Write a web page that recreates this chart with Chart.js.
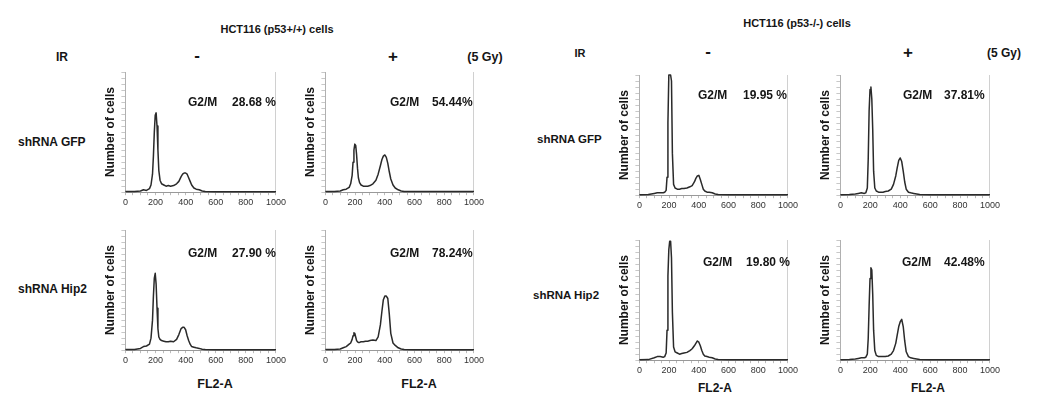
<!doctype html>
<html lang="en">
<head>
<meta charset="utf-8">
<title>HCT116 cell cycle – FL2-A histograms</title>
<script src="https://cdn.jsdelivr.net/npm/chart.js@4.4.4/dist/chart.umd.min.js"></script>
<style>
  body { margin: 0; width: 1047px; height: 411px; background: #fff; position: relative; overflow: hidden;
         font-family: "Liberation Sans", Arial, sans-serif; font-weight: bold; color: #151515; }
  .c { position: absolute; white-space: nowrap; transform: translate(-50%, -50%); }
  .s { position: absolute; white-space: nowrap; transform: translateY(-50%); }
  .box { position: absolute; }
</style>
</head>
<body>
<div class="c" style="left:277px;top:29px;font-size:11px">HCT116 (p53+/+) cells</div>
<div class="c" style="left:62px;top:57px;font-size:12px">IR</div>
<div class="c" style="left:197px;top:56px;font-size:17px">-</div>
<div class="c" style="left:393px;top:57px;font-size:17px">+</div>
<div class="c" style="left:485px;top:57px;font-size:12.5px">(5 Gy)</div>
<div class="s" style="left:18px;top:142px;font-size:12px">shRNA GFP</div>
<div class="s" style="left:18px;top:289px;font-size:12px">shRNA Hip2</div>
<div class="c" style="left:215px;top:384px;font-size:12.5px">FL2-A</div>
<div class="c" style="left:419px;top:384px;font-size:12.5px">FL2-A</div>

<div class="c" style="left:797px;top:23px;font-size:11px">HCT116 (p53-/-) cells</div>
<div class="c" style="left:580px;top:53px;font-size:11px">IR</div>
<div class="c" style="left:708px;top:52px;font-size:17px">-</div>
<div class="c" style="left:908px;top:53px;font-size:17px">+</div>
<div class="c" style="left:1004px;top:53px;font-size:12px">(5 Gy)</div>
<div class="s" style="left:537px;top:139px;font-size:11.5px">shRNA GFP</div>
<div class="s" style="left:533px;top:295px;font-size:11.5px">shRNA Hip2</div>
<div class="c" style="left:715px;top:388px;font-size:12px">FL2-A</div>
<div class="c" style="left:928px;top:388px;font-size:12px">FL2-A</div>

<script>
// FL2-A channel positions shared by all histograms
const channels = [0, 60, 100, 120, 140, 160, 170, 180, 186, 192, 198, 204, 210, 216, 222, 230, 240, 255, 270, 285,
                  300, 320, 340, 355, 370, 380, 390, 400, 410, 420, 430, 440, 455, 470, 490, 510, 530, 600, 800, 1000];

// Number of cells, as % of the panel's y range
const wtGfpMock = [0.5, 0.5, 1, 2, 1.5, 3, 6, 15, 30, 50, 64, 66, 55, 35, 18, 10, 7, 6, 5, 5.5,
                   5, 5.5, 7, 9, 13, 15, 16, 16, 15, 12, 9, 6, 3.5, 2.5, 2, 1, 0.5, 0.4, 0.3, 0.3];
const wtGfpIR = [0.5, 0.5, 1, 2, 2.5, 4, 7, 14, 25, 35, 40, 39, 31, 20, 12, 8, 6, 5, 5, 5,
                 5.5, 7, 10, 15, 22, 27, 30, 31, 29, 24, 17, 11, 6, 3.5, 2, 1, 0.5, 0.5, 0.5, 0.5];
const wtHipMock = [0.5, 0.5, 1.5, 3, 3.5, 5, 10, 25, 45, 60, 64, 55, 35, 18, 11, 9, 8, 7.5, 7, 7,
                   7.5, 7, 9, 13, 18, 19, 19, 17, 12, 8, 5, 3, 2.5, 2, 1.5, 0.8, 0.5, 0.3, 0.3, 0.3];
const wtHipIR = [0.5, 0.5, 1, 2, 3, 5, 6, 9, 12, 14.5, 14, 11, 8, 7, 6.5, 6.5, 7, 7, 7.5, 7.5,
                 8, 8.5, 8, 11, 21, 32, 42, 45, 45, 43, 30, 14, 6, 4, 2, 1, 0.5, 0.3, 0.3, 0.3];
const koGfpMock = [0.3, 0.5, 1.5, 2, 2, 2, 2.5, 4, 15, 60, 100, 100, 100, 95, 35, 9, 6, 5, 5, 5.5,
                   5.5, 6, 7, 8, 11, 14, 16, 16.5, 13, 9, 5, 3.5, 2.5, 2.5, 2, 1, 0.5, 0.3, 0.3, 0.3];
const koGfpIR = [0.3, 0.5, 1, 1.5, 2, 1.5, 2, 6, 30, 70, 88, 90, 80, 55, 20, 6, 3.5, 2.5, 2.5, 2.5,
                 3, 3.5, 5, 9, 16, 23, 29, 31, 28, 20, 11, 5, 2.5, 2, 1.5, 1, 0.5, 0.3, 0.3, 0.3];
const koHipMock = [0.3, 0.5, 2, 3, 3, 2.5, 3, 6, 25, 70, 92, 99, 99, 85, 40, 11, 7, 6, 5, 5.5,
                   6, 6.5, 8, 9.5, 12, 14, 16, 15, 12, 8, 5, 3.5, 3, 2.5, 2, 1, 0.5, 0.3, 0.3, 0.3];
const koHipIR = [0.3, 0.5, 1, 1.5, 2, 2, 2.5, 5, 18, 45, 68, 77, 75, 55, 25, 8, 4, 3, 3, 3,
                 3, 3.5, 5, 8, 14, 21, 28, 32, 34, 28, 16, 7, 3, 2, 1.5, 1, 0.5, 0.3, 0.3, 0.3];

const g2mLabels = ["28.68 %", "54.44%", "27.90 %", "78.24%", "19.95 %", "37.81%", "19.80 %", "42.48%"];
const xTickLabels = [0, 200, 400, 600, 800, 1000];

// where each plot area sits on the page: [left, right, top, bottom], plus G2/M text spots
const panels = [
  { counts: wtGfpMock, area: [125, 276, 72, 193], g2x: 188, pctx: 232, ty: 102 },
  { counts: wtGfpIR,   area: [325, 474, 72, 193], g2x: 390, pctx: 432, ty: 102 },
  { counts: wtHipMock, area: [125, 276, 230, 351], g2x: 188, pctx: 232, ty: 253 },
  { counts: wtHipIR,   area: [325, 474, 230, 351], g2x: 390, pctx: 432, ty: 253 },
  { counts: koGfpMock, area: [639, 788, 75, 196], g2x: 698, pctx: 743, ty: 95 },
  { counts: koGfpIR,   area: [840, 990, 75, 196], g2x: 903, pctx: 944, ty: 95 },
  { counts: koHipMock, area: [639, 788, 240, 361], g2x: 703, pctx: 746, ty: 262 },
  { counts: koHipIR,   area: [840, 990, 240, 361], g2x: 902, pctx: 944, ty: 262 },
];

const FONT = '"Liberation Sans", Arial, sans-serif';
Chart.defaults.font.family = FONT;

function addText(text, left, top, size) {
  const d = document.createElement("div");
  d.className = "s";
  d.style.left = left + "px";
  d.style.top = top + "px";
  d.style.fontSize = size + "px";
  d.textContent = text;
  document.body.appendChild(d);
}

panels.forEach((p, i) => {
  const [L, R, T, B] = p.area;
  const pad = { top: 4, bottom: 2, left: 2, right: 0 };
  const yAxisW = 4 + 14.4 + 4;
  const left = Math.round(L - yAxisW - pad.left);
  const top = T - pad.top;
  const w = Math.round(R + 12 - left);
  const h = Math.round(B - T + pad.top + 17 + pad.bottom);

  const box = document.createElement("div");
  box.className = "box";
  box.style.left = left + "px";
  box.style.top = top + "px";
  const cv = document.createElement("canvas");
  cv.width = w;
  cv.height = h;
  box.appendChild(cv);
  document.body.appendChild(box);

  new Chart(cv, {
    type: "line",
    data: {
      datasets: [{
        data: channels.map((c, k) => ({ x: c, y: p.counts[k] })),
        borderColor: "#2a2a2a", borderWidth: 1.5, borderJoinStyle: "round",
        pointRadius: 0, tension: 0, fill: false,
      }],
    },
    options: {
      responsive: false, animation: false, clip: false,
      layout: { padding: pad },
      plugins: { legend: { display: false }, tooltip: { enabled: false } },
      scales: {
        x: {
          type: "linear", min: 0, max: 1000,
          ticks: {
            stepSize: 50, autoSkip: false, maxRotation: 0, padding: 2, color: "#333",
            font: { size: 9, weight: "normal" },
            callback: (v) => (xTickLabels.includes(v) ? String(v) : ""),
          },
          grid: { drawOnChartArea: false, tickLength: 3, color: "#bbb" },
          border: { color: "#999" },
        },
        y: {
          min: 0, max: 100,
          ticks: { display: false, stepSize: 5 },
          grid: { drawOnChartArea: false, tickLength: 4, color: "#c8c8c8" },
          border: { color: "#b0b0b0" },
          title: {
            display: true, text: "Number of cells", color: "#151515",
            font: { size: 12, weight: "bold" }, padding: { top: 0, bottom: 4 },
          },
        },
        yr: {
          position: "right", display: true, min: 0, max: 1,
          ticks: { display: false },
          grid: { drawOnChartArea: false, drawTicks: false },
          border: { color: "#d0d0d0" },
        },
      },
    },
  });

  addText("G2/M", p.g2x, p.ty, 12);
  addText(g2mLabels[i], p.pctx, p.ty, 12);
});
</script>
</body>
</html>
